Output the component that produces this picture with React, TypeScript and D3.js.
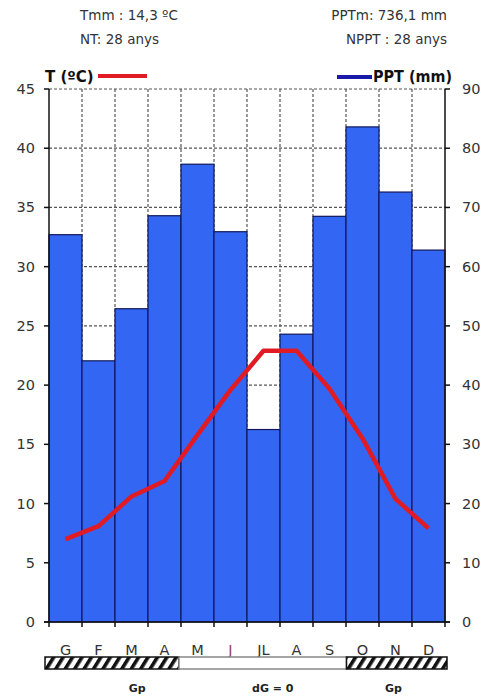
import React from 'react';
import * as d3 from 'd3';

const MONTHS = ['G', 'F', 'M', 'A', 'M', 'J', 'JL', 'A', 'S', 'O', 'N', 'D'];
// precipitació mensual (mm)
const PPT = [65.4, 44.1, 52.9, 68.6, 77.3, 65.9, 32.5, 48.6, 68.5, 83.6, 72.6, 62.8];
// temperatura mitjana mensual (ºC)
const TEMP = [7.0, 8.1, 10.6, 11.9, 15.8, 19.6, 22.9, 22.9, 19.7, 15.5, 10.4, 7.9];
const T_TICKS = [0, 5, 10, 15, 20, 25, 30, 35, 40, 45];
const P_TICKS = [0, 10, 20, 30, 40, 50, 60, 70, 80, 90];
// períodes de la franja inferior: [primer mes, últim mes, glaçada]
const PERIODS: [number, number, boolean][] = [[0, 3, true], [4, 8, false], [9, 11, true]];
const PERIOD_LABELS = [
  { text: 'Gp', at: 2.75 },
  { text: 'dG = 0', at: 6.8 },
  { text: 'Gp', at: 10.4 },
];

const W = 483;
const H = 698;
const L = 49, R = 445, TOP = 89, BOT = 622;
const FONT = "'DejaVu Sans', Verdana, sans-serif";
const TXT = '#333';

const App: React.FC = () => {
  const idx = MONTHS.map((_, i) => i);
  const x = d3.scaleBand<number>().domain(idx).range([L, R]).paddingInner(0).paddingOuter(0);
  const yT = d3.scaleLinear().domain([0, 45]).range([BOT, TOP]);
  const yP = d3.scaleLinear().domain([0, 90]).range([BOT, TOP]);
  const strip = d3.scaleLinear().domain([0, 12]).range([45, 447]);

  const line = d3.line<number>()
    .x((_, i) => (x(i) as number) + x.bandwidth() / 2)
    .y(d => yT(d));

  const boundaries = d3.range(1, 12).map(i => x(i) as number);

  return (
    <svg width={W} height={H} style={{ position: 'absolute', left: 0, top: 0, background: '#fff' }} fontFamily={FONT}>
      <defs>
        <pattern id="hatch" width="8" height="8" patternUnits="userSpaceOnUse" patternTransform="rotate(32)">
          <rect width="8" height="8" fill="#fff" />
          <rect width="3.6" height="8" fill="#111" />
        </pattern>
      </defs>

      {/* capçalera */}
      <g fill={TXT} fontSize={13.5}>
        <text x={80} y={20}>Tmm : 14,3 ºC</text>
        <text x={80} y={44}>NT: 28 anys</text>
        <text x={447} y={20} textAnchor="end">PPTm:  736,1 mm</text>
        <text x={447} y={44} textAnchor="end">NPPT : 28 anys</text>
      </g>

      {/* llegenda */}
      <text x={45} y={82} fontSize={15} fontWeight="bold" fill="#111">T (ºC)</text>
      <line x1={98} x2={147} y1={76} y2={76} stroke="#e01b24" strokeWidth={4} />
      <line x1={337} x2={372} y1={77} y2={77} stroke="#1a1aa8" strokeWidth={4} />
      <text x={373} y={82} fontSize={15} fontWeight="bold" fill="#111" textLength={79} lengthAdjust="spacingAndGlyphs">PPT (mm)</text>

      {/* graella */}
      <g stroke="#555" strokeWidth={1.2} strokeDasharray="3,2">
        {T_TICKS.slice(1).map(t => (
          <line key={t} x1={L} x2={R} y1={yT(t)} y2={yT(t)} />
        ))}
        {boundaries.map((bx, i) => (
          <line key={i} x1={bx} x2={bx} y1={TOP} y2={BOT} />
        ))}
      </g>

      {/* barres de precipitació */}
      <g fill="#3466f4" stroke="#10185a" strokeWidth={1.2}>
        {PPT.map((p, i) => (
          <rect key={i} x={x(i)} y={yP(p)} width={x.bandwidth()} height={BOT - yP(p)} />
        ))}
      </g>

      {/* eixos */}
      <g stroke="#111" strokeWidth={1.5}>
        <line x1={L} x2={L} y1={TOP} y2={BOT} />
        <line x1={R} x2={R} y1={TOP} y2={BOT} />
        <line x1={L - 5} x2={R + 5} y1={BOT} y2={BOT} />
        {T_TICKS.map(t => (
          <line key={'l' + t} x1={L - 5} x2={L} y1={yT(t)} y2={yT(t)} />
        ))}
        {P_TICKS.map(p => (
          <line key={'r' + p} x1={R} x2={R + 5} y1={yP(p)} y2={yP(p)} />
        ))}
        {d3.range(0, 13).map(i => {
          const bx = i < 12 ? (x(i) as number) : R;
          return <line key={'b' + i} x1={bx} x2={bx} y1={BOT} y2={BOT + 5} />;
        })}
      </g>

      {/* temperatura */}
      <path d={line(TEMP) as string} fill="none" stroke="#e01b24" strokeWidth={4.5} strokeLinejoin="round" />

      {/* etiquetes d'eixos */}
      <g fill={TXT} fontSize={14.5}>
        {T_TICKS.map(t => (
          <text key={'tl' + t} x={35} y={yT(t) + 5} textAnchor="end">{t}</text>
        ))}
        {P_TICKS.map(p => (
          <text key={'pl' + p} x={462} y={yP(p) + 5}>{p}</text>
        ))}
        {MONTHS.map((m, i) => (
          <text key={'m' + i} x={(x(i) as number) + x.bandwidth() / 2} y={655} textAnchor="middle"
            fill={m === 'J' ? '#8a4a58' : TXT}>{m}</text>
        ))}
      </g>

      {/* franja de glaçades */}
      {PERIODS.map(([a, b, frost], i) => (
        <rect key={'p' + i} x={strip(a)} y={657} width={strip(b + 1) - strip(a)} height={12}
          fill={frost ? 'url(#hatch)' : '#fff'} stroke={frost ? '#111' : '#888'} strokeWidth={1.5} />
      ))}
      <g fill="#222" fontSize={11} fontWeight="bold" textAnchor="middle">
        {PERIOD_LABELS.map((p, i) => (
          <text key={'pt' + i} x={strip(p.at)} y={692}>{p.text}</text>
        ))}
      </g>
    </svg>
  );
};

export default App;
